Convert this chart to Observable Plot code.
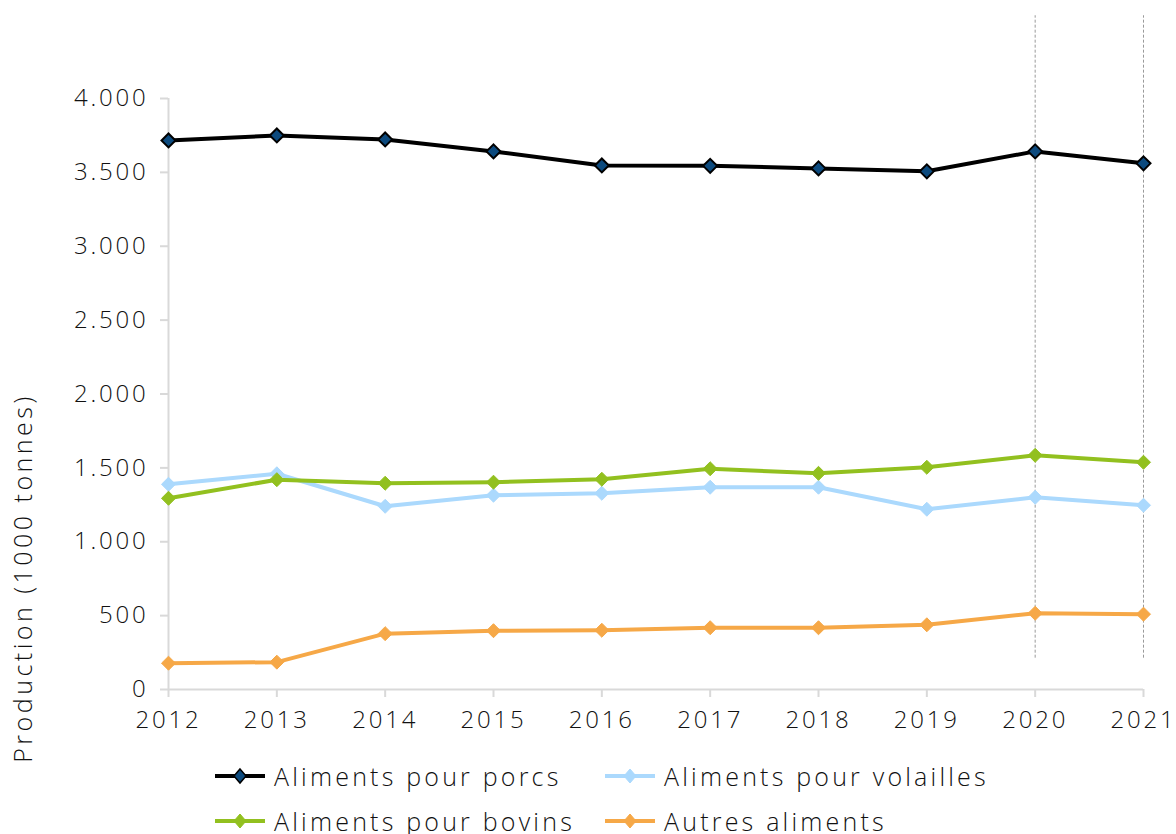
<!DOCTYPE html>
<html>
<head>
<meta charset="utf-8">
<script src="https://cdn.jsdelivr.net/npm/d3@7"></script>
<script src="https://cdn.jsdelivr.net/npm/@observablehq/plot@0.6"></script>
<style>
  html, body { margin: 0; padding: 0; background: #fff; }
  body { width: 1176px; height: 834px; overflow: hidden; font-family: "Open Sans", Lato, sans-serif; font-weight: 300; }
  #legend { position: relative; display: grid; grid-template-columns: 390px 390px; padding-left: 215px; padding-top: 8px; }
  .item { display: flex; align-items: center; height: 45px; font-size: 25px; letter-spacing: 3.2px; color: #111; white-space: nowrap; }
  .item svg { margin-right: 9px; flex: none; }
  g[aria-label="y-axis tick label"] text, g[aria-label="x-axis tick label"] text { letter-spacing: 2.8px; }
  g[aria-label="text"] text { letter-spacing: 3.5px; }
</style>
</head>
<body>
<div id="chart"></div>
<div id="legend"></div>
<script>
const years = [2012, 2013, 2014, 2015, 2016, 2017, 2018, 2019, 2020, 2021];
const seriesNames = ["Aliments pour porcs", "Aliments pour volailles", "Aliments pour bovins", "Autres aliments"];
const porcs    = [3716, 3750, 3723, 3642, 3547, 3544, 3527, 3507, 3642, 3561];
const volailles = [1389, 1460, 1240, 1315, 1328, 1369, 1369, 1220, 1301, 1247];
const bovins   = [1294, 1420, 1396, 1403, 1423, 1494, 1463, 1504, 1585, 1538];
const autres   = [178, 185, 378, 398, 401, 418, 418, 438, 516, 510];
const lineColors = ["#000000", "#abd9fd", "#92c01f", "#f6a847"];
const markerFill = ["#0c4a7e", "#abd9fd", "#92c01f", "#f6a847"];
const yTicks = [0, 500, 1000, 1500, 2000, 2500, 3000, 3500, 4000];
const markedYears = [2020, 2021];
const markedRange = [212, 4560];
const yLabel = "Production (1000 tonnes)";

const values = [porcs, volailles, bovins, autres];
const data = [];
seriesNames.forEach((s, i) => years.forEach((yr, j) => data.push({series: s, year: yr, value: values[i][j], idx: i})));

const fmt = d => d3.format(",")(d).replace(/,/g, ".");
const axisGray = "#d9d9d9";
const font = "'Open Sans', Lato, sans-serif";

const chart = Plot.plot({
  width: 1176,
  height: 745,
  marginLeft: 168,
  marginRight: 33,
  marginTop: 98,
  marginBottom: 56,
  style: {fontFamily: font, fontSize: "24px", fontWeight: 300, color: "#111", background: "#fff", overflow: "visible"},
  x: {domain: [years[0], years[years.length - 1]], type: "linear"},
  y: {domain: [0, 4000]},
  color: {domain: seriesNames, range: lineColors},
  marks: [
    Plot.ruleX(markedYears, {x: d => d, y1: markedRange[0], y2: markedRange[1], stroke: "#9a9a9a", strokeWidth: 1, strokeDasharray: "3,2"}),
    Plot.ruleX([years[0]], {y1: 0, y2: yTicks[yTicks.length - 1], stroke: axisGray, strokeWidth: 2}),
    Plot.ruleY([0], {x1: years[0], x2: years[years.length - 1], stroke: axisGray, strokeWidth: 2}),
    Plot.axisY({ticks: yTicks, tickFormat: fmt, tickSize: 8, tickPadding: 12, stroke: axisGray, strokeWidth: 2, strokeOpacity: 1, label: null, fontSize: 24}),
    Plot.axisX({ticks: years, tickFormat: d => String(d), tickSize: 8, tickPadding: 13, stroke: axisGray, strokeWidth: 2, strokeOpacity: 1, label: null, fontSize: 24}),
    Plot.text([yLabel], {frameAnchor: "left", textAnchor: "middle", rotate: -90, dx: -145, dy: 184, fontSize: 25, fill: "#111", fontWeight: 300}),
    Plot.line(data, {x: "year", y: "value", z: "series", stroke: "series", strokeWidth: 4}),
    Plot.dot(data, {x: "year", y: "value", symbol: "diamond2", r: 6.3, fill: d => markerFill[d.idx], stroke: d => d.idx === 0 ? "#000" : markerFill[d.idx], strokeWidth: d => d.idx === 0 ? 2 : 1})
  ]
});
document.getElementById("chart").appendChild(chart);

const legend = document.getElementById("legend");
seriesNames.forEach((s, i) => {
  const div = document.createElement("div");
  div.className = "item";
  const stroke = i === 0 ? "#000" : markerFill[i];
  div.innerHTML = `<svg width="50" height="20" viewBox="0 0 50 20"><line x1="0" y1="10" x2="50" y2="10" stroke="${lineColors[i]}" stroke-width="4"/><path d="M25,3 L31,10 L25,17 L19,10 Z" fill="${markerFill[i]}" stroke="${stroke}" stroke-width="${i === 0 ? 1.5 : 1}"/></svg><span>${s}</span>`;
  legend.appendChild(div);
});
</script>
</body>
</html>
